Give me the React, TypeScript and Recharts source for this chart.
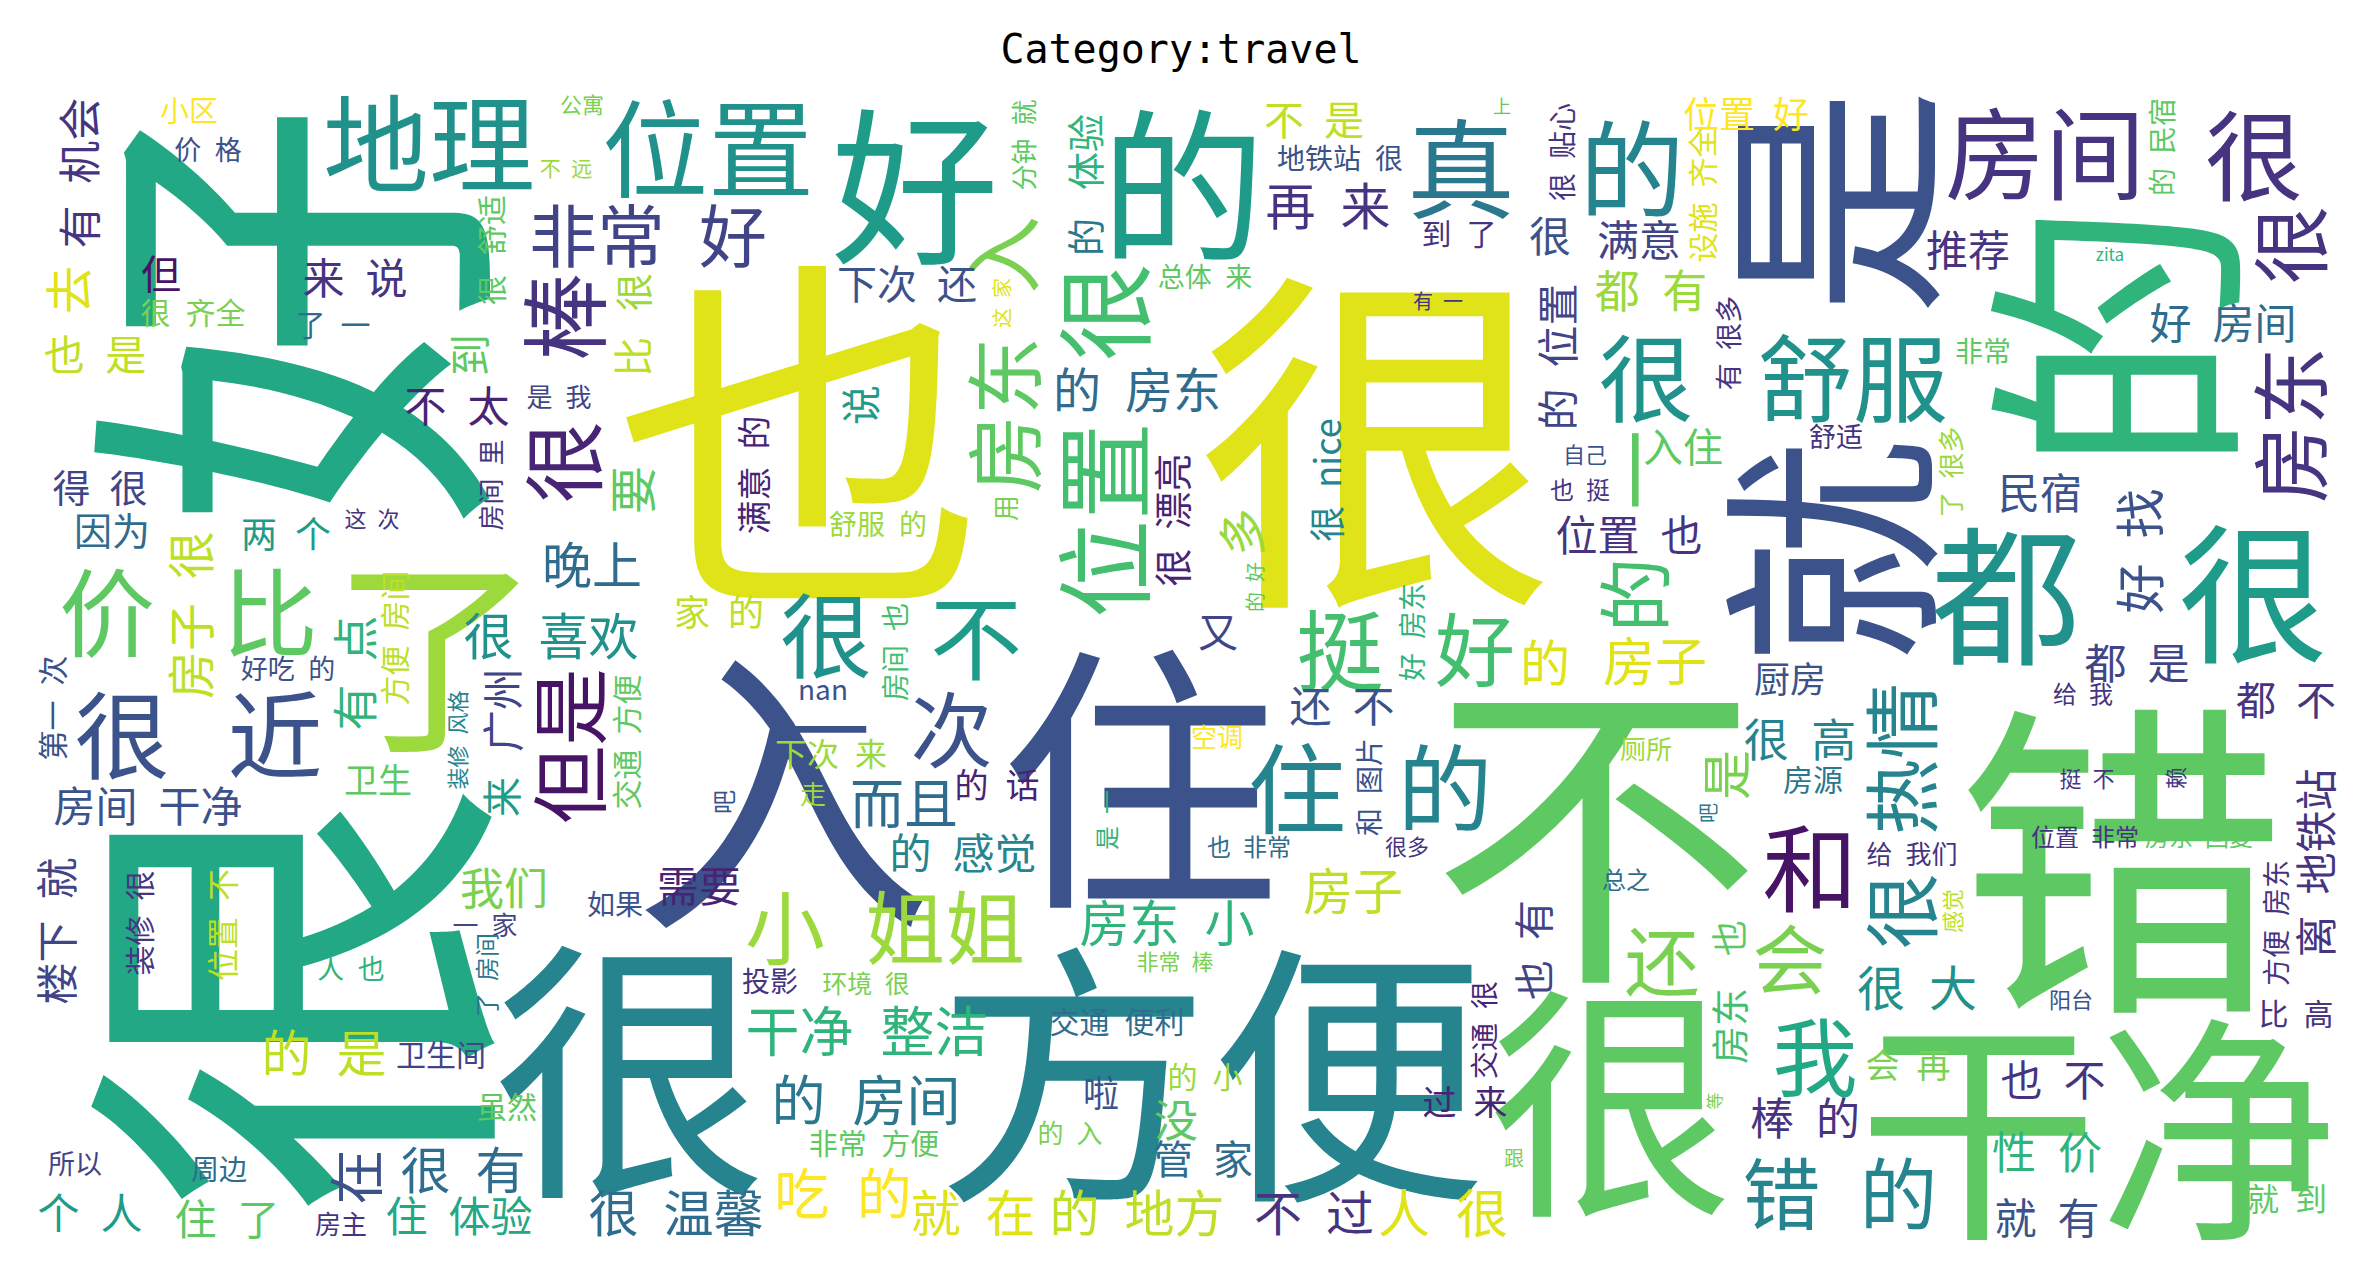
import { Scatter, ScatterChart, XAxis, YAxis } from "recharts";

// word cloud canvas: 2310 x 1155 units, y grows downwards
// [text, x, y, size, vertical, tone (viridis 0..1)]
type Word = [string, number, number, number, number, number];

const bigWords: Word[] = [
  ["好", 238, 230, 430, 1, 0.6],
  ["很", 238, 913, 440, 1, 0.6],
  ["也", 770, 330, 370, 0, 0.95],
  ["很", 1346, 337, 360, 0, 0.95],
  ["不", 1566, 728, 330, 0, 0.75],
  ["错", 2091, 758, 330, 0, 0.75],
  ["入", 753, 690, 300, 0, 0.25],
  ["住", 1110, 679, 280, 0, 0.25],
  ["方便", 1181, 975, 275, 0, 0.45],
  ["很", 600, 971, 275, 0, 0.45],
  ["的", 2073, 253, 275, 1, 0.65],
  ["很", 1581, 1005, 245, 0, 0.75],
  ["干净", 2068, 1031, 240, 0, 0.75],
  ["是", 1792, 117, 228, 1, 0.25],
  ["就", 1790, 467, 228, 1, 0.25],
  ["了", 406, 558, 210, 0, 0.85],
  ["好", 885, 92, 168, 0, 0.55],
  ["的", 1153, 92, 165, 0, 0.55],
  ["都", 1976, 502, 150, 0, 0.5],
  ["很", 2223, 500, 150, 0, 0.55],
];

const midWords: Word[] = [
  ["地理", 399, 53, 106, 0, 0.5],
  ["位置", 678, 58, 106, 0, 0.5],
  ["真", 1431, 78, 108, 0, 0.4],
  ["的", 1602, 78, 105, 0, 0.45],
  ["房间", 2015, 63, 100, 0, 0.15],
  ["很", 2224, 65, 98, 0, 0.15],
  ["很", 1616, 288, 95, 0, 0.5],
  ["舒服", 1823, 288, 95, 0, 0.5],
  ["棒", 529, 232, 88, 1, 0.15],
  ["很", 529, 377, 82, 1, 0.1],
  ["价", 77, 522, 96, 0, 0.75],
  ["比", 240, 522, 96, 0, 0.75],
  ["很", 92, 645, 95, 0, 0.25],
  ["近", 245, 645, 95, 0, 0.25],
  ["但是", 536, 661, 78, 1, 0.05],
  ["很", 1069, 227, 98, 1, 0.7],
  ["位置", 1069, 435, 98, 1, 0.7],
  ["入", 969, 170, 78, 1, 0.8],
  ["房东", 971, 330, 78, 1, 0.75],
  ["很", 796, 545, 92, 0, 0.5],
  ["不", 946, 547, 92, 0, 0.55],
  ["一 次", 860, 640, 82, 0, 0.25],
  ["挺", 1310, 560, 88, 0, 0.7],
  ["好", 1445, 560, 80, 0, 0.7],
  ["住", 1267, 698, 98, 0, 0.45],
  ["的", 1415, 698, 95, 0, 0.45],
  ["小 姐姐", 855, 838, 80, 0, 0.85],
  ["很", 2257, 160, 78, 1, 0.15],
  ["房东", 2257, 340, 78, 1, 0.15],
  ["一", 1601, 385, 80, 1, 0.75],
  ["的", 1601, 510, 75, 1, 0.7],
  ["很 热情", 1868, 731, 76, 1, 0.45],
  ["和", 1780, 778, 95, 0, 0.05],
  ["还", 1632, 872, 75, 0, 0.8],
  ["会", 1760, 870, 75, 0, 0.8],
  ["我", 1785, 967, 85, 0, 0.6],
  ["错 的", 1810, 1105, 78, 0, 0.45],
  ["非常 好", 618, 147, 68, 0, 0.2],
];

const smallWords: Word[] = [
  ["好 房间", 2193, 235, 42, 0, 0.35],
  ["再 来", 1298, 118, 50, 0, 0.15],
  ["房子 很", 158, 530, 48, 1, 0.9],
  ["有 点", 322, 588, 46, 1, 0.65],
  ["晚上", 562, 477, 50, 0, 0.35],
  ["很 喜欢", 521, 548, 50, 0, 0.5],
  ["要", 600, 405, 48, 1, 0.75],
  ["而且", 874, 715, 54, 0, 0.35],
  ["干净 整洁", 837, 943, 54, 0, 0.65],
  ["的 房间", 836, 1012, 54, 0, 0.4],
  ["吃 的", 813, 1105, 55, 0, 1.0],
  ["就 在", 943, 1125, 50, 0, 0.95],
  ["的 地方", 1107, 1125, 50, 0, 0.9],
  ["不 过", 1284, 1125, 48, 0, 0.15],
  ["人 很", 1413, 1125, 52, 0, 0.95],
  ["房东 小", 1137, 835, 50, 0, 0.65],
  ["房子", 1323, 803, 50, 0, 0.9],
  ["的", 1515, 575, 50, 0, 0.95],
  ["房子", 1625, 573, 52, 0, 0.95],
  ["的 房东", 1107, 302, 48, 0, 0.35],
  ["多", 1209, 447, 48, 1, 0.85],
  ["很 大", 1887, 900, 48, 0, 0.5],
  ["是", 1693, 690, 50, 1, 0.8],
  ["民宿", 2010, 405, 42, 0, 0.25],
  ["好 找", 2107, 466, 50, 1, 0.25],
  ["都 是", 2107, 575, 42, 0, 0.2],
  ["很 高", 1770, 652, 45, 0, 0.45],
  ["都 有", 1621, 203, 45, 0, 0.85],
  ["满意", 1609, 152, 42, 0, 0.2],
  ["推荐", 1938, 162, 42, 0, 0.15],
  ["位置 也", 1599, 447, 42, 0, 0.15],
  ["入住", 1653, 360, 40, 0, 0.75],
  ["的 是", 294, 965, 50, 0, 0.9],
  ["在", 323, 1092, 55, 1, 0.25],
  ["很 有", 433, 1082, 50, 0, 0.35],
  ["很 温馨", 646, 1125, 50, 0, 0.35],
  ["需要", 669, 798, 42, 0, 0.1],
  ["我们", 474, 801, 44, 0, 0.8],
  ["的 感觉", 933, 765, 42, 0, 0.45],
  ["很 nice", 1295, 395, 36, 1, 0.45],
  ["很 漂亮", 1140, 435, 38, 1, 0.1],
  ["又", 1188, 545, 40, 0, 0.2],
  ["还 不", 1312, 618, 42, 0, 0.25],
  ["棒 的", 1775, 1031, 44, 0, 0.15],
  ["也 不", 2023, 992, 42, 0, 0.15],
  ["性 价", 2017, 1065, 44, 0, 0.65],
  ["就 有", 2017, 1130, 42, 0, 0.25],
  ["会 再", 1878, 978, 34, 0, 0.8],
  ["也 有", 1502, 865, 40, 1, 0.2],
  ["没", 1146, 1033, 44, 0, 0.75],
  ["管 家", 1173, 1072, 40, 0, 0.35],
  ["啦", 1071, 1006, 36, 0, 0.25],
  ["过 来", 1435, 1015, 34, 0, 0.1],
  ["离 地铁站", 2283, 778, 42, 1, 0.15],
  ["房东", 1697, 941, 38, 1, 0.7],
  ["也", 1697, 853, 36, 1, 0.75],
  ["说", 829, 320, 40, 1, 0.55],
  ["下次 还", 877, 197, 40, 0, 0.25],
  ["体验", 1053, 67, 38, 1, 0.65],
  ["的", 1053, 152, 38, 1, 0.4],
  ["不 是", 1284, 33, 40, 0, 0.9],
  ["很", 1520, 148, 42, 0, 0.25],
  ["的 位置", 1525, 272, 42, 1, 0.2],
  ["来 说", 325, 190, 42, 0, 0.15],
  ["也 是", 65, 267, 41, 0, 0.9],
  ["有 机会", 47, 88, 43, 1, 0.15],
  ["去", 36, 205, 48, 1, 0.95],
  ["但", 131, 187, 40, 0, 0.05],
  ["到", 437, 270, 42, 1, 0.75],
  ["比", 601, 272, 40, 1, 0.9],
  ["很", 601, 207, 38, 1, 0.85],
  ["不 太", 427, 318, 42, 0, 0.1],
  ["得 很", 70, 400, 38, 0, 0.2],
  ["因为", 82, 443, 38, 0, 0.35],
  ["两 个", 256, 447, 36, 0, 0.55],
  ["家 的", 689, 525, 36, 0, 0.9],
  ["满意 的", 722, 390, 34, 1, 0.1],
  ["广州", 470, 625, 42, 1, 0.2],
  ["来", 470, 712, 40, 1, 0.55],
  ["房间 干净", 118, 718, 42, 0, 0.25],
  ["楼下 就", 24, 846, 42, 1, 0.2],
  ["个 人", 60, 1125, 42, 0, 0.55],
  ["住 了", 197, 1131, 42, 0, 0.75],
  ["住 体验", 429, 1128, 42, 0, 0.6],
  ["的 小", 1175, 990, 30, 0, 0.85],
  ["厨房", 1760, 592, 36, 0, 0.25],
  ["房源", 1783, 693, 30, 0, 0.4],
  ["都 不", 2256, 613, 40, 0, 0.15],
  ["比 高", 2266, 927, 30, 0, 0.15],
  ["就 到", 2257, 1112, 32, 0, 0.75],
  ["位置 好", 1716, 27, 36, 0, 1.0],
  ["很 齐全", 163, 226, 30, 0, 0.8],
];

const tinyWords: Word[] = [
  ["小区", 159, 24, 29, 0, 1.0],
  ["价 格", 178, 63, 27, 0, 0.25],
  ["了 一", 303, 238, 30, 0, 0.35],
  ["公寓", 552, 18, 22, 0, 0.8],
  ["不 远", 536, 82, 21, 0, 0.85],
  ["舒适", 460, 140, 30, 1, 0.75],
  ["很", 460, 205, 30, 1, 0.75],
  ["是 我", 529, 310, 26, 0, 0.2],
  ["分钟 就", 992, 60, 26, 1, 0.75],
  ["地铁站 很", 1310, 72, 28, 0, 0.25],
  ["上", 1472, 20, 18, 0, 0.75],
  ["很 贴心", 1531, 67, 28, 1, 0.15],
  ["到 了", 1429, 147, 30, 0, 0.15],
  ["这 家", 971, 218, 20, 1, 0.95],
  ["总体 来", 1175, 190, 27, 0, 0.75],
  ["有 一", 1408, 215, 20, 0, 0.15],
  ["设施 齐全", 1671, 110, 30, 1, 0.95],
  ["有 很多", 1697, 258, 27, 1, 0.15],
  ["的 民宿", 2131, 62, 28, 1, 0.75],
  ["zita", 2080, 168, 17, 0, 0.65],
  ["非常", 1953, 265, 28, 0, 0.75],
  ["舒适", 1806, 350, 27, 0, 0.15],
  ["了 很多", 1919, 387, 26, 1, 0.85],
  ["自己", 1555, 368, 22, 0, 0.25],
  ["也 挺", 1550, 403, 24, 0, 0.15],
  ["给 我", 2053, 607, 24, 0, 0.15],
  ["厕所", 1616, 662, 26, 0, 0.85],
  ["吧", 1677, 728, 20, 1, 0.4],
  ["挺 不", 2057, 692, 22, 0, 0.15],
  ["赖", 2144, 693, 22, 1, 0.15],
  ["位置 非常", 2055, 750, 24, 0, 0.15],
  ["房东 回复", 2169, 750, 24, 0, 0.75],
  ["总之", 1596, 793, 24, 0, 0.35],
  ["给 我们", 1882, 767, 26, 0, 0.15],
  ["感觉", 1921, 826, 22, 1, 0.9],
  ["阳台", 2041, 913, 22, 0, 0.25],
  ["方便 房东", 2245, 838, 28, 1, 0.15],
  ["等", 1683, 1016, 17, 1, 0.8],
  ["舒服 的", 848, 438, 28, 0, 0.85],
  ["用", 974, 423, 26, 1, 0.8],
  ["的 好", 1224, 502, 20, 1, 0.75],
  ["房间 也", 864, 567, 28, 1, 0.7],
  ["nan", 793, 603, 28, 0, 0.25],
  ["好 房东", 1381, 547, 28, 1, 0.65],
  ["空调", 1187, 650, 26, 0, 1.0],
  ["和 图片", 1338, 702, 28, 1, 0.25],
  ["的 话", 967, 698, 34, 0, 0.1],
  ["下次 来", 801, 667, 32, 0, 0.85],
  ["走", 783, 707, 26, 0, 0.85],
  ["是 一", 1075, 735, 24, 1, 0.65],
  ["也 非常", 1219, 760, 24, 0, 0.35],
  ["很多", 1377, 760, 22, 0, 0.15],
  ["非常 棒", 1145, 875, 22, 0, 0.8],
  ["环境 很", 836, 897, 25, 0, 0.8],
  ["交通 便利", 1087, 935, 30, 0, 0.35],
  ["非常 方便", 844, 1057, 29, 0, 0.75],
  ["的 入", 1040, 1046, 26, 0, 0.8],
  ["交通 很", 1453, 945, 28, 1, 0.1],
  ["跟", 1484, 1072, 20, 0, 0.8],
  ["这 次", 342, 432, 22, 0, 0.15],
  ["房间 里", 459, 400, 26, 1, 0.15],
  ["好吃 的", 258, 582, 27, 0, 0.25],
  ["方便 房间", 363, 553, 30, 1, 0.9],
  ["第一 次", 21, 623, 30, 1, 0.25],
  ["装修 风格", 426, 655, 22, 1, 0.45],
  ["交通 方便", 595, 657, 30, 1, 0.75],
  ["卫生", 348, 693, 34, 0, 0.75],
  ["吧", 692, 717, 24, 1, 0.25],
  ["装修 很", 108, 838, 30, 1, 0.15],
  ["位置 不", 191, 840, 32, 1, 0.9],
  ["人 也", 321, 882, 27, 0, 0.65],
  ["一 家", 455, 838, 26, 0, 0.2],
  ["了 房间", 455, 890, 24, 1, 0.4],
  ["如果", 585, 818, 28, 0, 0.25],
  ["卫生间", 411, 968, 30, 0, 0.2],
  ["虽然", 477, 1020, 30, 0, 0.75],
  ["所以", 45, 1077, 27, 0, 0.2],
  ["周边", 189, 1083, 28, 0, 0.35],
  ["房主", 311, 1137, 26, 0, 0.15],
  ["投影", 740, 895, 28, 0, 0.15],
];

const VIRIDIS = [
  "#440154", "#471365", "#482475", "#463480", "#414487", "#3b528b",
  "#355f8d", "#2f6c8e", "#2a788e", "#25848e", "#21918c", "#1e9c89",
  "#22a884", "#2fb47c", "#44bf70", "#5ec962", "#7ad151", "#9bd93c",
  "#bddf26", "#dfe318", "#fde725",
];

const CANVAS_W = 2310;
const CANVAS_H = 1155;
const CHART_W = 2354;
const CHART_H = 1257;
const MARGIN = { top: 77, left: 22, right: 22, bottom: 25 };
const UNIT = (CHART_W - MARGIN.left - MARGIN.right) / CANVAS_W;

const toPoints = (list: Word[]) =>
  list.map(([text, x, y, size, vertical, tone]) => ({ text, x, y, size, vertical, tone }));

function WordShape(props: any) {
  const { cx, cy, payload } = props;
  if (cx == null || cy == null) return null;
  const fill = VIRIDIS[Math.round(payload.tone * 20)];
  return (
    <text
      x={cx}
      y={cy}
      fontSize={payload.size * UNIT}
      fill={fill}
      textAnchor="middle"
      dominantBaseline="central"
      fontFamily="'Noto Sans CJK SC', sans-serif"
      transform={payload.vertical ? `rotate(-90 ${cx} ${cy})` : undefined}
    >
      {payload.text.replace(/ /g, "\u2002")}
    </text>
  );
}

export default function App() {
  return (
    <div style={{ position: "relative", width: CHART_W, height: CHART_H, background: "#fff" }}>
      <div
        style={{
          position: "absolute",
          top: 17,
          left: 0,
          width: CHART_W - 8,
          textAlign: "center",
          fontFamily: "'DejaVu Sans Mono', monospace",
          fontSize: 40,
          lineHeight: "48px",
          color: "#000",
        }}
      >
        Category:travel
      </div>
      <ScatterChart width={CHART_W} height={CHART_H} margin={MARGIN}>
        <XAxis type="number" dataKey="x" domain={[0, CANVAS_W]} hide allowDataOverflow />
        <YAxis type="number" dataKey="y" domain={[0, CANVAS_H]} reversed hide allowDataOverflow />
        <Scatter data={toPoints(bigWords)} shape={WordShape} isAnimationActive={false} />
        <Scatter data={toPoints(midWords)} shape={WordShape} isAnimationActive={false} />
        <Scatter data={toPoints(smallWords)} shape={WordShape} isAnimationActive={false} />
        <Scatter data={toPoints(tinyWords)} shape={WordShape} isAnimationActive={false} />
      </ScatterChart>
    </div>
  );
}
